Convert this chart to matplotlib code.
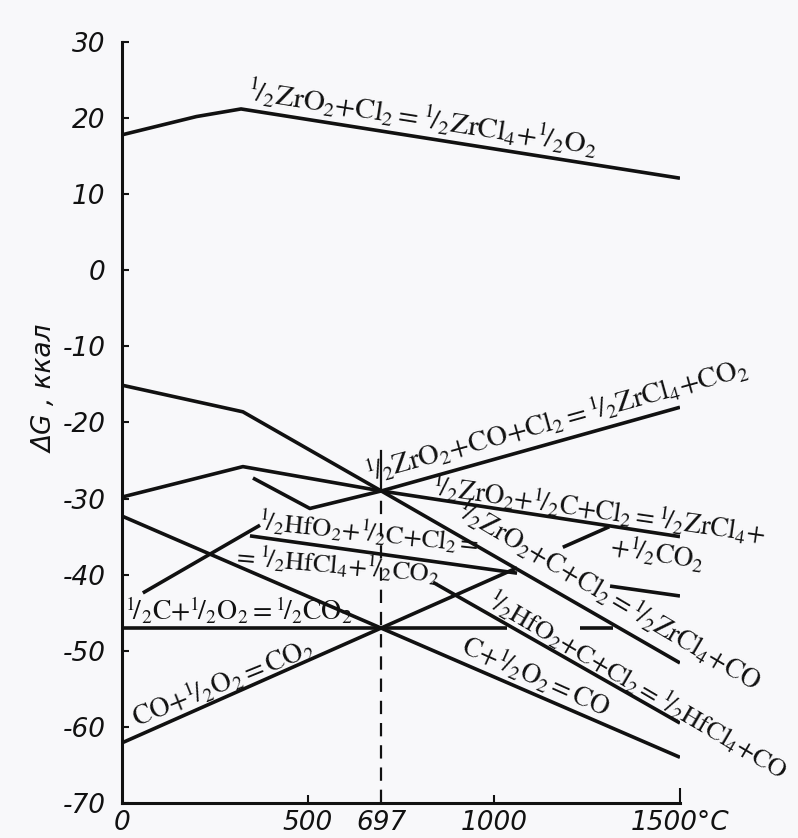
import matplotlib
matplotlib.use('Agg')
import matplotlib.pyplot as plt
import numpy as np

nan = np.nan

# temperatures (deg C) and dG (kcal)
zr_cl2_t = [0, 200, 320, 1500]
zr_cl2_g = [17.8, 20.2, 21.2, 12.1]

zr_c_t = [0, 325, 697, 1500]
zr_c_g = [-15.1, -18.6, -29.0, -51.6]

zr_halfc_t = [0, 325, 697, 1500]
zr_halfc_g = [-29.8, -25.8, -29.0, -35.0]

zr_co_t = [352, 505, 697, 1500]
zr_co_g = [-27.3, -31.3, -29.0, -18.0]

c_co_t = [0, 1500]
c_co_g = [-32.3, -64.0]

co_co2_t = [0, 1062, nan, 1185, 1310]
co_co2_g = [-62.1, -39.1, nan, -36.4, -33.7]

c_co2_t = [0, 1035, nan, 1231, 1320]
c_co2_g = [-47.0, -47.0, nan, -47.0, -47.0]

hf_halfc_t = [344, 1062, nan, 1312, 1500]
hf_halfc_g = [-34.9, -39.8, nan, -41.5, -42.8]

hf_c_t = [836, 1500]
hf_c_g = [-41.0, -59.5]

hf_side_t = [56, 371]
hf_side_g = [-42.4, -33.5]

t_eq = 697
g_eq_top = -29.0
g_eq_mark = -23.8

xticks = [0, 500, 697, 1000, 1500]
xtick_labels = ['0', '500', '697', '1000', '1500°C']
yticks = [30, 20, 10, 0, -10, -20, -30, -40, -50, -60, -70]

H = r'{}^{1}\!/_{2}'
labels = [
    # text, T, dG, rotation, size
    (r'$' + H + r'\mathrm{ZrO_2{+}Cl_2{=}}' + H + r'\mathrm{ZrCl_4{+}}' + H + r'\mathrm{O_2}$', 333, 22.4, -9, 21),
    (r'$' + H + r'\mathrm{ZrO_2{+}CO{+}Cl_2{=}}' + H + r'\mathrm{ZrCl_4{+}CO_2}$', 663, -27.8, 15.5, 20.5),
    (r'$' + H + r'\mathrm{ZrO_2{+}}' + H + r'\mathrm{C{+}Cl_2{=}}' + H + r'\mathrm{ZrCl_4{+}}$', 830, -29.6, -8.3, 19.5),
    (r'$\mathrm{{+}}' + H + r'\mathrm{CO_2}$', 1310, -37.4, -9, 19.5),
    (r'$' + H + r'\mathrm{ZrO_2{+}C{+}Cl_2{=}}' + H + r'\mathrm{ZrCl_4{+}CO}$', 893, -32.2, -30.5, 19.5),
    (r'$' + H + r'\mathrm{HfO_2{+}}' + H + r'\mathrm{C{+}Cl_2{=}}$', 364, -34.1, -6, 19),
    (r'$\mathrm{{=}}' + H + r'\mathrm{HfCl_4{+}}' + H + r'\mathrm{CO_2}$', 298, -38.7, -5, 19),
    (r'$' + H + r'\mathrm{HfO_2{+}C{+}Cl_2{=}}' + H + r'\mathrm{HfCl_4{+}CO}$', 976, -44.0, -30.5, 19),
    (r'$\mathrm{C{+}}' + H + r'\mathrm{O_2{=}CO}$', 907, -50.3, -24, 19.5),
    (r'$' + H + r'\mathrm{C{+}}' + H + r'\mathrm{O_2{=}}' + H + r'\mathrm{CO_2}$', 8, -46.0, 0, 20),
    (r'$\mathrm{CO{+}}' + H + r'\mathrm{O_2{=}CO_2}$', 40, -60.1, 22, 20),
]

plt.rcParams['mathtext.fontset'] = 'stix'
tick_font = ['Liberation Sans Narrow', 'DejaVu Sans']

bg = '#f8f8fa'
fig = plt.figure(figsize=(7.98, 8.38), dpi=100, facecolor=bg)
ax = fig.add_axes([0.1529, 0.0418, 0.6992, 0.9081], facecolor=bg)

lw = 2.6
col = '#111111'
for t, g in [(zr_cl2_t, zr_cl2_g), (zr_c_t, zr_c_g), (zr_halfc_t, zr_halfc_g),
             (zr_co_t, zr_co_g), (c_co_t, c_co_g), (co_co2_t, co_co2_g),
             (c_co2_t, c_co2_g), (hf_halfc_t, hf_halfc_g), (hf_c_t, hf_c_g),
             (hf_side_t, hf_side_g)]:
    ax.plot(t, g, color=col, lw=lw, solid_capstyle='butt')

ax.plot([t_eq, t_eq], [yticks[-1], g_eq_top], color=col, lw=1.6, dashes=(6, 4))
ax.plot([t_eq, t_eq], [g_eq_top, g_eq_mark], color=col, lw=1.6)

for txt, t, g, rot, fs in labels:
    ax.text(t, g, txt, fontsize=fs, rotation=rot, rotation_mode='anchor',
            ha='left', va='baseline', color=col)

ax.set_xlim(0, 1500)
ax.set_ylim(-70, 30)
for s in ['top', 'right']:
    ax.spines[s].set_visible(False)
for s in ['left', 'bottom']:
    ax.spines[s].set_linewidth(2.2)
    ax.spines[s].set_color(col)

ax.set_xticks(xticks)
ax.set_xticklabels(xtick_labels)
ax.set_yticks(yticks)
ax.set_yticklabels([str(v) for v in yticks])
ax.tick_params(axis='both', direction='in', color=col, width=1.5)
ax.tick_params(axis='y', length=5, pad=12)
ax.tick_params(axis='x', length=6, pad=5)
mt = ax.xaxis.get_major_ticks()
mt[0].tick1line.set_visible(False)
mt[2].tick1line.set_visible(False)
mt[4].tick1line.set_markersize(11)
for lab in ax.get_xticklabels() + ax.get_yticklabels():
    lab.set_family(tick_font)
    lab.set_style('italic')
    lab.set_fontsize(19)
    lab.set_color(col)

fig.text(0.057, 0.536, 'ΔG , ккал', rotation=90, ha='center', va='center',
         family=tick_font, style='italic', fontsize=19, color=col)

fig.savefig('out.png', dpi=100, facecolor=bg)
